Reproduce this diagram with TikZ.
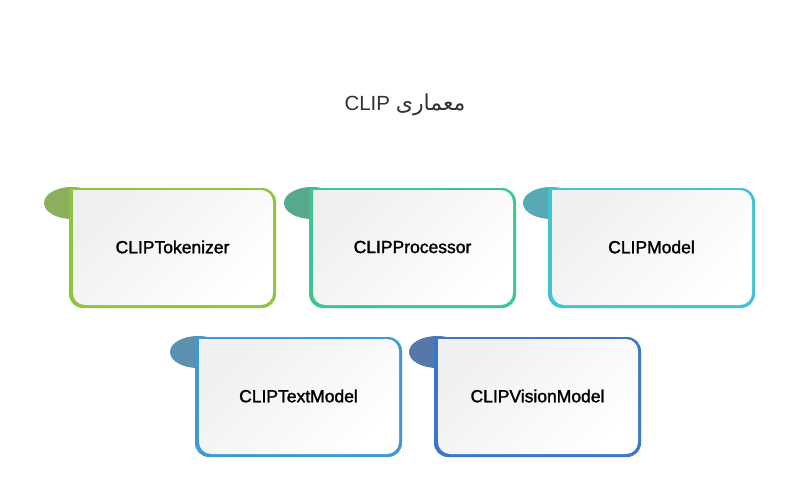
\documentclass[tikz,border=0pt]{standalone}
\usepackage{fontspec}
\setmainfont{Liberation Sans}
\newfontfamily\cardfont[FakeBold=1.6]{Liberation Sans}
\newfontfamily\arabicfont[Script=Arabic]{DejaVu Sans}
\TeXXeTstate=1
\definecolor{bA}{HTML}{8CC63F}\definecolor{tA}{HTML}{8BAF5A}
\definecolor{bB}{HTML}{3EC690}\definecolor{tB}{HTML}{56A98A}
\definecolor{bC}{HTML}{40C4D2}\definecolor{tC}{HTML}{58A9B3}
\definecolor{bD}{HTML}{3E9AD2}\definecolor{tD}{HTML}{5A90B0}
\definecolor{bE}{HTML}{3A77C8}\definecolor{tE}{HTML}{5577A9}
\definecolor{titlegray}{HTML}{333333}
\tikzset{
  cardtext/.style={font=\cardfont\fontsize{17.5}{21}\selectfont, text=black, inner sep=0pt},
  titletext/.style={font=\fontsize{20.5}{25}\selectfont, text=titlegray, inner sep=0pt},
  cardfill/.style={left color=black!6, right color=white, shading angle=45}
}
\newcommand{\clipcard}[6]{%
  \pgfmathsetmacro\xa{#2}\pgfmathsetmacro\ya{#3}%
  \pgfmathsetmacro\xb{#2+207}\pgfmathsetmacro\yb{#3+120}%
  \fill[#5] (\xa+3,\ya+15) ellipse [x radius=28, y radius=16];
  \fill[#4] (\xa,\ya) -- (\xb-14,\ya) arc[start angle=-90,end angle=0,radius=14]
     -- (\xb,\yb-14) arc[start angle=0,end angle=90,radius=14]
     -- (\xa+14,\yb) arc[start angle=90,end angle=180,radius=14] -- cycle;
  \shade[cardfill] (\xa+4,\ya+2) -- (\xb-15,\ya+2) arc[start angle=-90,end angle=0,radius=12]
     -- (\xb-3,\yb-15) arc[start angle=0,end angle=90,radius=12]
     -- (\xa+16,\yb-3) arc[start angle=90,end angle=180,radius=12] -- cycle;
  \node[cardtext] (#1) at ({(\xa+\xb)/2},{(\ya+\yb)/2-1}) {#6};
}
\begin{document}
\begin{tikzpicture}[x=1pt,y=-1pt]
\useasboundingbox[fill=white] (0,0) rectangle (800,500);
\node[titletext] (title) at (405,105) {CLIP {\arabicfont\fontsize{22}{26}\selectfont\beginR معماری\endR}};
\clipcard{tok}{69}{188}{bA}{tA}{CLIPTokenizer}
\clipcard{proc}{309}{188}{bB}{tB}{CLIPProcessor}
\clipcard{model}{548}{188}{bC}{tC}{CLIPModel}
\clipcard{text}{195}{337}{bD}{tD}{CLIPTextModel}
\clipcard{vision}{434}{337}{bE}{tE}{CLIPVisionModel}
\end{tikzpicture}
\end{document}
